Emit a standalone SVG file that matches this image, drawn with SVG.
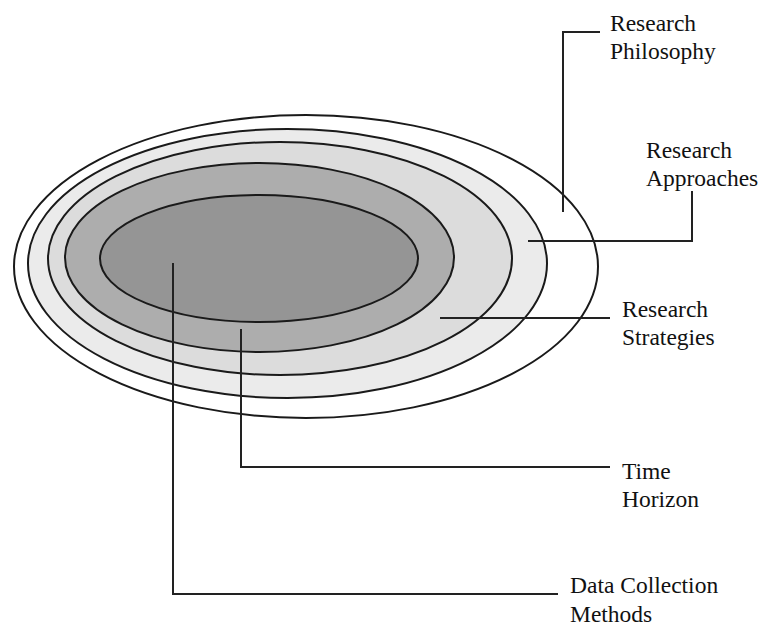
<svg xmlns="http://www.w3.org/2000/svg" width="763" height="628" viewBox="0 0 763 628">
  <style>
    .ring { stroke: #1a1a1a; stroke-width: 2; }
    .lead { fill: none; stroke: #222; stroke-width: 2; }
    .label { font-family: "Liberation Serif", "Times New Roman", serif; font-size: 23.5px; fill: #111; }
  </style>
  <rect width="763" height="628" fill="#ffffff"/>

  <!-- Nested layers, outermost first -->
  <g id="layer-philosophy">
    <ellipse class="ring" cx="306" cy="266.5" rx="292" ry="151.5" fill="#ffffff"/>
  </g>
  <g id="layer-approaches">
    <ellipse class="ring" cx="287.5" cy="263.5" rx="259.5" ry="134.5" fill="#ebebeb"/>
  </g>
  <g id="layer-strategies">
    <ellipse class="ring" cx="280" cy="258.5" rx="232" ry="116.5" fill="#dcdcdc"/>
  </g>
  <g id="layer-time">
    <ellipse class="ring" cx="259.5" cy="257.5" rx="194.5" ry="94.5" fill="#adadad"/>
  </g>
  <g id="layer-data">
    <ellipse class="ring" cx="259" cy="258.5" rx="159" ry="63.5" fill="#959595"/>
  </g>

  <!-- Leader lines from each layer to its label -->
  <g id="connectors">
    <polyline class="lead" points="563,212 563,32 600,32"/>
    <polyline class="lead" points="528,241 692,241 692,191"/>
    <line class="lead" x1="440" y1="318" x2="610" y2="318"/>
    <polyline class="lead" points="241,329 241,467 610,467"/>
    <polyline class="lead" points="173,263 173,594 558,594"/>
  </g>

  <g id="labels">
    <text class="label" x="610" y="31">Research</text>
    <text class="label" x="610" y="59">Philosophy</text>
    <text class="label" x="646" y="158">Research</text>
    <text class="label" x="646" y="186">Approaches</text>
    <text class="label" x="622" y="317">Research</text>
    <text class="label" x="622" y="345">Strategies</text>
    <text class="label" x="622" y="479">Time</text>
    <text class="label" x="622" y="507">Horizon</text>
    <text class="label" x="570" y="593">Data Collection</text>
    <text class="label" x="570" y="622">Methods</text>
  </g>
</svg>
